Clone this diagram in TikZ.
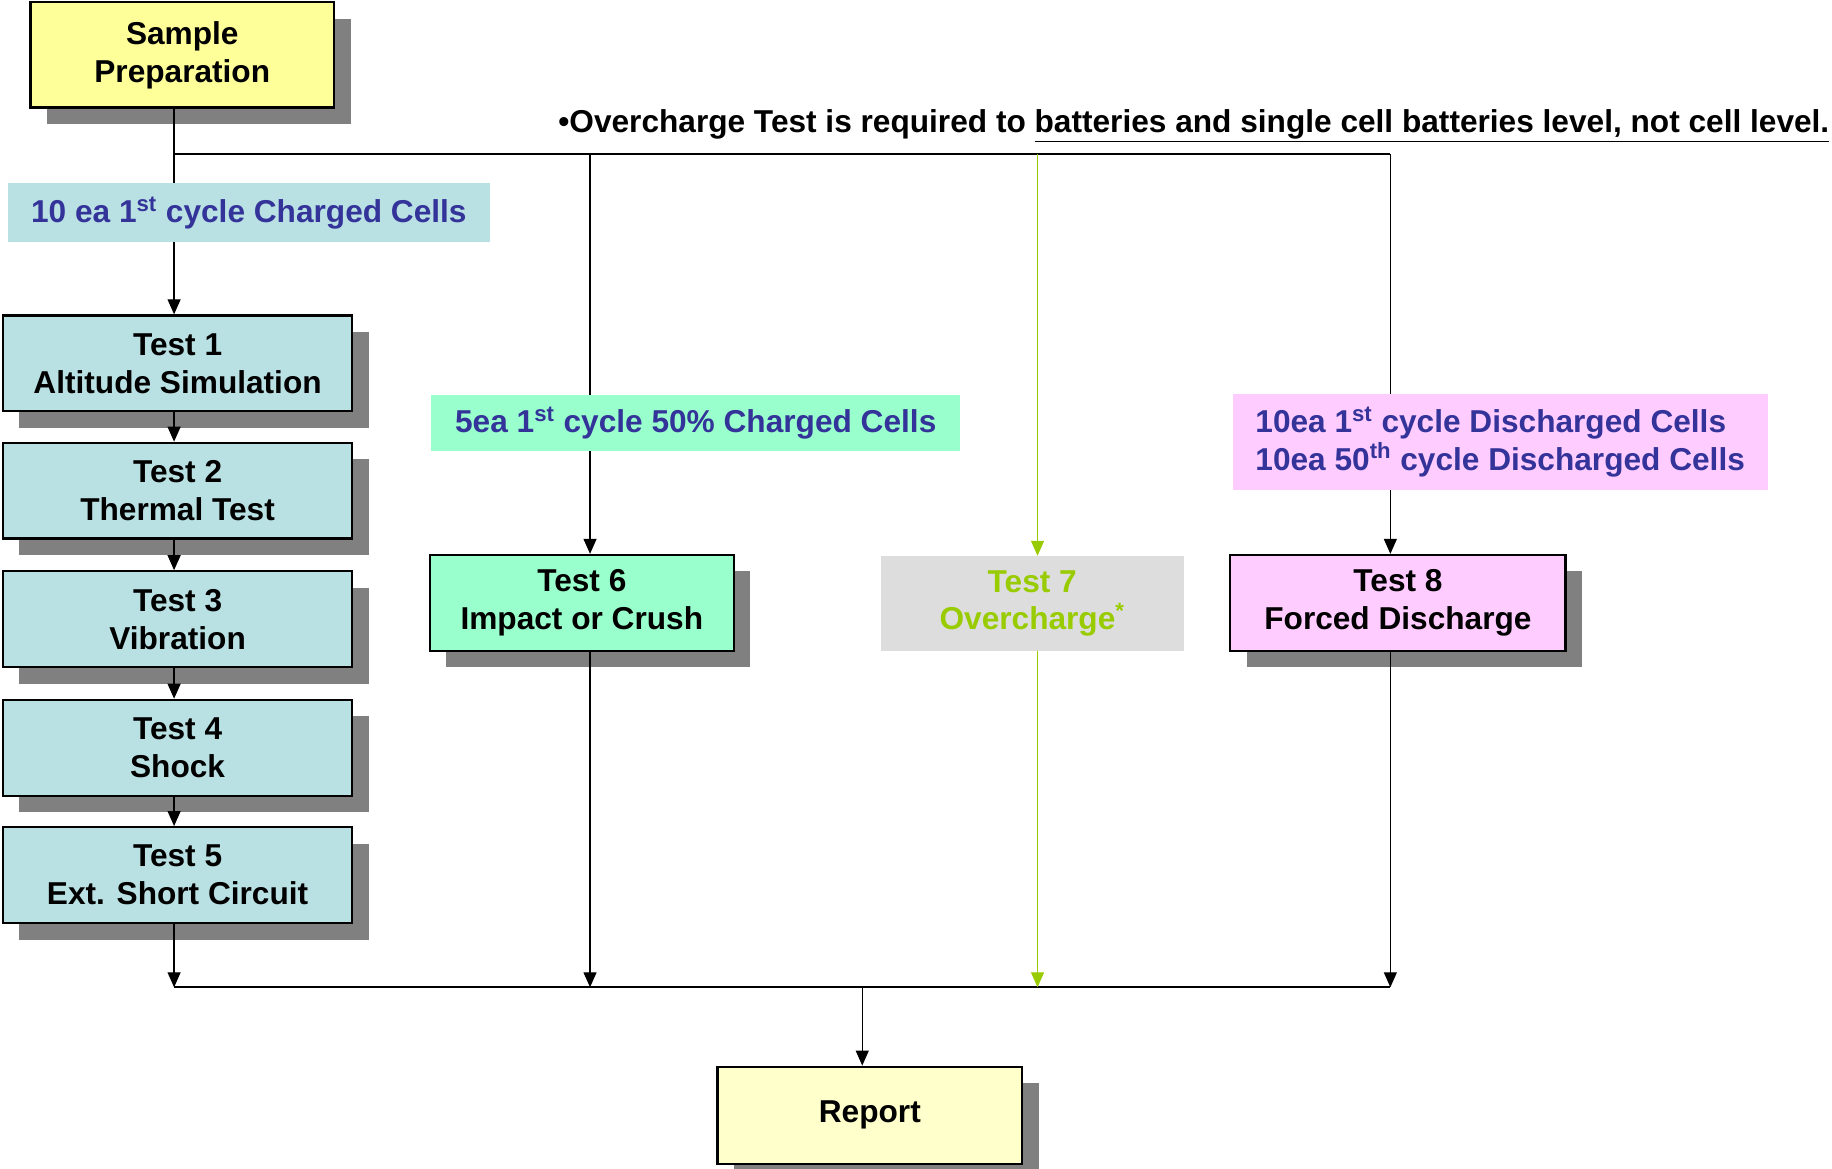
\documentclass[tikz,border=0pt]{standalone}
\usepackage{fontspec}
\setmainfont{Liberation Sans}
\usetikzlibrary{arrows.meta, positioning, shadows, calc}

\definecolor{prepfill}{HTML}{FFFF99}
\definecolor{cellfill}{HTML}{B9E1E4}
\definecolor{mintfill}{HTML}{99FFCC}
\definecolor{greyfill}{HTML}{DDDDDD}
\definecolor{pinkfill}{HTML}{FFCCFF}
\definecolor{reportfill}{HTML}{FFFFCC}
\definecolor{labelblue}{HTML}{333399}
\definecolor{ocgreen}{HTML}{99CC00}
\definecolor{shadowgray}{HTML}{808080}

\def\px{0.23368mm}

\begin{document}
\begin{tikzpicture}[x=0.23368mm, y=-0.23368mm, >={Triangle[length=3mm, width=2.6mm]},
    txt/.style={font=\bfseries\fontsize{18}{21.6}\selectfont, align=center, inner sep=0pt},
    box/.style={txt, draw, line width=1.3pt,
      drop shadow={shadow xshift=3.3mm, shadow yshift=-3.3mm, fill=shadowgray, opacity=1}},
    lab/.style={txt, text=labelblue},
    conn/.style={->, line width=0.7pt},
    bus/.style={line width=1.3pt}]

    \useasboundingbox (0,0) rectangle (1568,1000);

    % -------------------------------------------------------
    % 1. Boxes
    % -------------------------------------------------------
    \node[box, fill=prepfill, minimum width=260*\px, minimum height=90*\px]
      (prep) at (156,47) {Sample\\Preparation};

    \foreach \i/\y/\name in {1/311/Altitude Simulation, 2/420/Thermal Test,
                             3/530/Vibration, 4/640/Shock, 5/749/Ext. Short Circuit} {
      \node[box, fill=cellfill, minimum width=299*\px, minimum height=82*\px]
        (t\i) at (152,\y) {Test \i\\\name};
    }

    \node[box, fill=mintfill, minimum width=260*\px, minimum height=82*\px]
      (t6) at (498,516) {Test 6\\Impact or Crush};
    \node[txt, fill=greyfill, text=ocgreen, minimum width=259*\px, minimum height=81*\px]
      (t7) at (883.5,516.5) {Test 7\\Overcharge\textsuperscript{*}};
    \node[box, fill=pinkfill, minimum width=287*\px, minimum height=82*\px]
      (t8) at (1196.5,516) {Test 8\\Forced Discharge};

    \node[box, fill=reportfill, minimum width=261*\px, minimum height=83*\px]
      (report) at (744.5,954.5) {Report};

    \node[txt, anchor=base east] (note) at (1566,113)
      {\textbullet Overcharge Test is required to \underline{batteries and single cell batteries level, not cell level.}};

    % -------------------------------------------------------
    % 2. Connectors
    % -------------------------------------------------------
    \coordinate (split) at (149,132);
    \coordinate (join) at (738,845);

    \draw[line width=1pt] (split) -- (split -| 1190,0);
    \draw[line width=0.7pt] (prep.south -| split) -- (split);
    \draw[conn] (split) -- (t1.north -| split);
    \foreach \i/\j in {1/2, 2/3, 3/4, 4/5} {
      \draw[conn] (t\i.south -| split) -- (t\j.north -| split);
    }
    \draw[conn] (split -| 505,0) -- (t6.north -| 505,0);
    \draw[conn, ocgreen] (split -| 888,0) -- (t7.north -| 888,0);
    \draw[conn] (split -| 1190,0) -- (t8.north -| 1190,0);

    \draw[bus] (join -| split) -- (join -| 1190,0);
    \draw[conn] (t5.south -| split) -- (join -| split);
    \draw[conn] (t6.south -| 505,0) -- (join -| 505,0);
    \draw[conn, ocgreen] (t7.south -| 888,0) -- (join -| 888,0);
    \draw[conn] (t8.south -| 1190,0) -- (join -| 1190,0);
    \draw[conn] (join) -- (report.north -| join);

    % -------------------------------------------------------
    % 3. Cell labels (over the lines)
    % -------------------------------------------------------
    \node[lab, fill=cellfill, minimum width=412*\px, minimum height=50*\px]
      (cells1) at (213,182) {10 ea 1\textsuperscript{st} cycle Charged Cells};
    \node[lab, fill=mintfill, minimum width=453*\px, minimum height=48*\px]
      (cells6) at (595.5,362) {5ea 1\textsuperscript{st} cycle 50\% Charged Cells};
    \node[lab, fill=pinkfill, align=left, minimum width=458*\px, minimum height=82*\px]
      (cells8) at (1284,378) {10ea 1\textsuperscript{st} cycle Discharged Cells\\10ea 50\textsuperscript{th} cycle Discharged Cells};
\end{tikzpicture}
\end{document}
